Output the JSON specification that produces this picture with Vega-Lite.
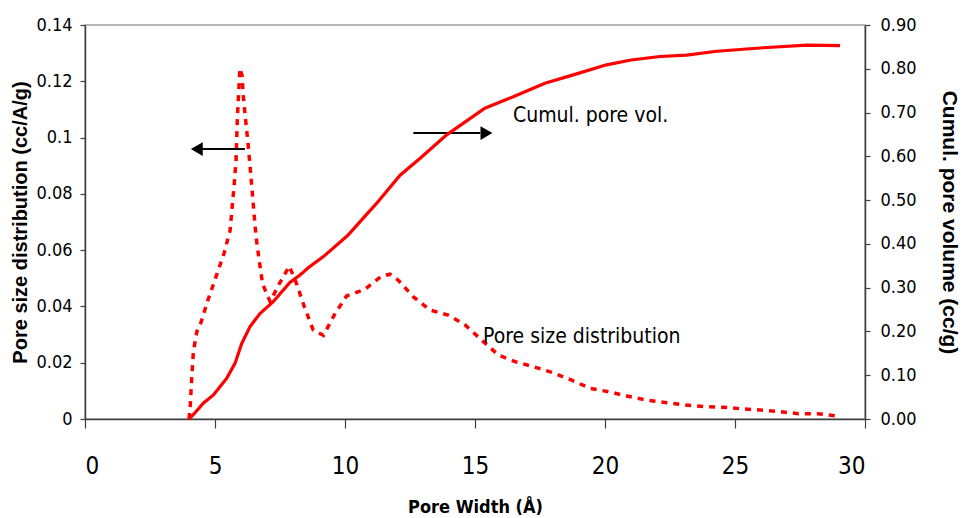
{
  "$schema": "https://vega.github.io/schema/vega-lite/v6.json",
  "width": 780,
  "height": 394,
  "autosize": "none",
  "padding": {"left": 85, "top": 25, "right": 97, "bottom": 99},
  "background": "white",
  "config": {
    "font": "DejaVu Sans Condensed",
    "view": {"stroke": "#a0a0a0", "strokeWidth": 1.5},
    "axis": {
      "grid": false,
      "domainColor": "#404040",
      "domainWidth": 1.5,
      "tickColor": "#404040",
      "tickWidth": 1.2,
      "labelColor": "#000000",
      "titleColor": "#000000",
      "labelFont": "DejaVu Sans Condensed",
      "titleFont": "Liberation Sans",
      "titleFontWeight": "bold"
    },
    "axisX": {"tickSize": 9, "labelPadding": 26, "labelFontSize": 24, "titleFont": "DejaVu Sans Condensed", "titleFontSize": 18, "titlePadding": 20},
    "axisLeft": {"tickSize": 5, "labelPadding": 8, "labelFontSize": 18, "titleFontSize": 20, "titlePadding": 5},
    "axisRight": {"tickSize": 5, "labelPadding": 10, "labelFontSize": 18, "titleFontSize": 21, "titlePadding": 22}
  },
  "datasets": {
    "psd": [
      {"w": 4.0, "v": 0.0}, {"w": 4.05, "v": 0.005}, {"w": 4.1, "v": 0.014}, {"w": 4.17, "v": 0.024},
      {"w": 4.3, "v": 0.031}, {"w": 4.45, "v": 0.034}, {"w": 4.72, "v": 0.042}, {"w": 5.04, "v": 0.0506},
      {"w": 5.35, "v": 0.0589}, {"w": 5.58, "v": 0.067}, {"w": 5.73, "v": 0.0825}, {"w": 5.81, "v": 0.092},
      {"w": 5.86, "v": 0.107}, {"w": 5.91, "v": 0.116}, {"w": 5.96, "v": 0.1246}, {"w": 6.04, "v": 0.122},
      {"w": 6.09, "v": 0.1145}, {"w": 6.18, "v": 0.106}, {"w": 6.27, "v": 0.098}, {"w": 6.35, "v": 0.0896},
      {"w": 6.43, "v": 0.081}, {"w": 6.5, "v": 0.073}, {"w": 6.58, "v": 0.0647}, {"w": 6.69, "v": 0.057},
      {"w": 6.83, "v": 0.048}, {"w": 7.12, "v": 0.0417}, {"w": 7.47, "v": 0.048}, {"w": 7.86, "v": 0.0543},
      {"w": 8.14, "v": 0.048}, {"w": 8.43, "v": 0.04}, {"w": 8.78, "v": 0.0316}, {"w": 9.17, "v": 0.0297},
      {"w": 9.62, "v": 0.0375}, {"w": 10.06, "v": 0.0437}, {"w": 10.75, "v": 0.046}, {"w": 11.38, "v": 0.0506},
      {"w": 11.73, "v": 0.0515}, {"w": 12.05, "v": 0.0493}, {"w": 12.63, "v": 0.0434}, {"w": 13.27, "v": 0.0387},
      {"w": 13.97, "v": 0.0369}, {"w": 14.62, "v": 0.0334}, {"w": 15.26, "v": 0.028}, {"w": 15.9, "v": 0.0227},
      {"w": 16.54, "v": 0.0204}, {"w": 17.24, "v": 0.0186}, {"w": 18.01, "v": 0.0164}, {"w": 18.72, "v": 0.0138},
      {"w": 19.42, "v": 0.0109}, {"w": 20.13, "v": 0.0097}, {"w": 20.83, "v": 0.0082}, {"w": 21.6, "v": 0.0067},
      {"w": 22.31, "v": 0.0059}, {"w": 23.04, "v": 0.005}, {"w": 23.78, "v": 0.0044}, {"w": 24.53, "v": 0.0042},
      {"w": 25.26, "v": 0.0036}, {"w": 25.96, "v": 0.0032}, {"w": 26.7, "v": 0.0026}, {"w": 27.44, "v": 0.0019},
      {"w": 28.17, "v": 0.0019}, {"w": 28.91, "v": 0.0011}
    ],
    "cumul": [
      {"w": 4.0, "c": 0.0}, {"w": 4.2, "c": 0.012}, {"w": 4.55, "c": 0.036}, {"w": 4.94, "c": 0.055},
      {"w": 5.45, "c": 0.093}, {"w": 5.77, "c": 0.127}, {"w": 6.03, "c": 0.173}, {"w": 6.35, "c": 0.211},
      {"w": 6.73, "c": 0.241}, {"w": 7.24, "c": 0.268}, {"w": 7.88, "c": 0.312}, {"w": 8.27, "c": 0.329},
      {"w": 8.6, "c": 0.346}, {"w": 9.17, "c": 0.371}, {"w": 10.1, "c": 0.419}, {"w": 11.22, "c": 0.493},
      {"w": 12.12, "c": 0.557}, {"w": 12.88, "c": 0.595}, {"w": 13.91, "c": 0.649}, {"w": 15.38, "c": 0.71},
      {"w": 16.47, "c": 0.736}, {"w": 17.69, "c": 0.767}, {"w": 18.78, "c": 0.786}, {"w": 20.06, "c": 0.809},
      {"w": 21.0, "c": 0.82}, {"w": 22.12, "c": 0.828}, {"w": 23.14, "c": 0.831}, {"w": 24.3, "c": 0.84},
      {"w": 26.09, "c": 0.848}, {"w": 27.76, "c": 0.854}, {"w": 29.04, "c": 0.853}
    ],
    "arrows": [
      {"from": 4.3, "to": 6.15, "y": 0.0959, "head": 4.3, "shape": "triangle-left"},
      {"from": 12.63, "to": 15.2, "y": 0.1016, "head": 15.44, "shape": "triangle-right"}
    ],
    "notes": [
      {"w": 16.46, "v": 0.1076, "label": "Cumul. pore vol."},
      {"w": 15.31, "v": 0.0291, "label": "Pore size distribution"}
    ]
  },
  "layer": [
    {
      "layer": [
        {
          "data": {"name": "psd"},
          "mark": {"type": "line", "color": "#ff0000", "strokeWidth": 3.5, "strokeDash": [6, 6], "strokeCap": "butt"},
          "encoding": {
            "x": {
              "field": "w", "type": "quantitative",
              "scale": {"domain": [0, 30], "nice": false, "zero": true},
              "axis": {"title": "Pore Width (Å)", "values": [0, 5, 10, 15, 20, 25, 30]}
            },
            "y": {
              "field": "v", "type": "quantitative",
              "scale": {"domain": [0, 0.14], "nice": false},
              "axis": {
                "title": "Pore size distribution (cc/A/g)",
                "values": [0, 0.02, 0.04, 0.06, 0.08, 0.1, 0.12, 0.14],
                "format": "~g"
              }
            }
          }
        },
        {
          "data": {"name": "arrows"},
          "mark": {"type": "rule", "color": "#000000", "strokeWidth": 2},
          "encoding": {
            "x": {"field": "from", "type": "quantitative", "axis": {"title": "Pore Width (Å)"}},
            "x2": {"field": "to"},
            "y": {"field": "y", "type": "quantitative", "axis": {"title": "Pore size distribution (cc/A/g)"}}
          }
        },
        {
          "data": {"name": "arrows"},
          "mark": {"type": "point", "filled": true, "color": "#000000", "opacity": 1, "size": 190},
          "encoding": {
            "x": {"field": "head", "type": "quantitative", "axis": {"title": "Pore Width (Å)"}},
            "y": {"field": "y", "type": "quantitative", "axis": {"title": "Pore size distribution (cc/A/g)"}},
            "shape": {"field": "shape", "type": "nominal", "scale": null}
          }
        },
        {
          "data": {"name": "notes"},
          "mark": {"type": "text", "align": "left", "baseline": "middle", "fontSize": 21, "font": "DejaVu Sans Condensed", "color": "#000000"},
          "encoding": {
            "x": {"field": "w", "type": "quantitative", "axis": {"title": "Pore Width (Å)"}},
            "y": {"field": "v", "type": "quantitative", "axis": {"title": "Pore size distribution (cc/A/g)"}},
            "text": {"field": "label"}
          }
        }
      ]
    },
    {
      "data": {"name": "cumul"},
      "mark": {"type": "line", "color": "#ff0000", "strokeWidth": 3.2},
      "encoding": {
        "x": {"field": "w", "type": "quantitative", "axis": {"title": "Pore Width (Å)"}},
        "y": {
          "field": "c", "type": "quantitative",
          "scale": {"domain": [0, 0.9], "nice": false},
          "axis": {
            "orient": "right", "title": "Cumul. pore volume (cc/g)",
            "values": [0, 0.1, 0.2, 0.3, 0.4, 0.5, 0.6, 0.7, 0.8, 0.9], "format": ".2f"
          }
        }
      }
    }
  ],
  "resolve": {"scale": {"y": "independent"}}
}
